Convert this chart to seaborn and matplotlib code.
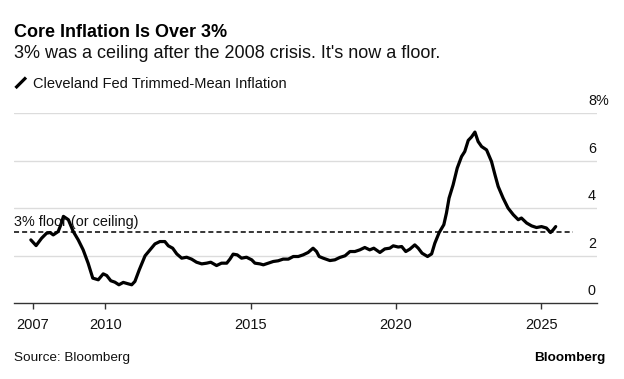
import matplotlib
matplotlib.use("Agg")
import pandas as pd
import matplotlib.pyplot as plt
import matplotlib.transforms as mtransforms
from matplotlib.lines import Line2D
import seaborn as sns

# Cleveland Fed trimmed-mean inflation (decimal year, %)
years = [2007.44, 2007.62, 2007.81, 2007.98, 2008.10, 2008.21, 2008.38, 2008.47,
         2008.56, 2008.73, 2008.90, 2009.07, 2009.24, 2009.41, 2009.57, 2009.76,
         2009.93, 2010.05, 2010.19, 2010.33, 2010.47, 2010.62, 2010.79, 2010.91,
         2011.02, 2011.17, 2011.37, 2011.54, 2011.71, 2011.88, 2012.05, 2012.17,
         2012.32, 2012.46, 2012.63, 2012.80, 2012.97, 2013.14, 2013.32, 2013.49,
         2013.63, 2013.83, 2014.00, 2014.18, 2014.29, 2014.40, 2014.54, 2014.69,
         2014.86, 2015.04, 2015.15, 2015.32, 2015.44, 2015.61, 2015.78, 2015.95,
         2016.12, 2016.30, 2016.47, 2016.64, 2016.81, 2016.98, 2017.15, 2017.27,
         2017.36, 2017.50, 2017.73, 2017.90, 2018.07, 2018.25, 2018.42, 2018.59,
         2018.76, 2018.93, 2019.10, 2019.24, 2019.45, 2019.62, 2019.79, 2019.91,
         2020.08, 2020.20, 2020.34, 2020.48, 2020.65, 2020.77, 2020.90, 2021.09,
         2021.23, 2021.34, 2021.49, 2021.65, 2021.74, 2021.83, 2021.97, 2022.11,
         2022.26, 2022.37, 2022.49, 2022.60, 2022.72, 2022.83, 2022.95, 2023.12,
         2023.29, 2023.41, 2023.52, 2023.69, 2023.86, 2024.04, 2024.21, 2024.32,
         2024.50, 2024.67, 2024.84, 2025.01, 2025.18, 2025.32, 2025.41, 2025.50]
trimmed_mean = [2.67, 2.43, 2.74, 2.95, 2.98, 2.88, 3.02, 3.30,
                3.66, 3.52, 3.02, 2.67, 2.25, 1.69, 1.06, 0.99,
                1.24, 1.17, 0.95, 0.89, 0.78, 0.88, 0.82, 0.78,
                0.92, 1.41, 2.00, 2.25, 2.50, 2.60, 2.60, 2.42,
                2.32, 2.08, 1.90, 1.94, 1.86, 1.73, 1.66, 1.69,
                1.73, 1.59, 1.69, 1.69, 1.86, 2.07, 2.04, 1.90,
                1.94, 1.83, 1.69, 1.66, 1.62, 1.69, 1.76, 1.79,
                1.86, 1.86, 1.97, 1.97, 2.04, 2.14, 2.32, 2.18,
                1.97, 1.90, 1.80, 1.83, 1.93, 2.00, 2.18, 2.18,
                2.25, 2.35, 2.25, 2.32, 2.14, 2.29, 2.32, 2.42,
                2.37, 2.39, 2.18, 2.28, 2.46, 2.32, 2.11, 1.97,
                2.08, 2.53, 2.98, 3.31, 3.80, 4.43, 4.99, 5.69,
                6.18, 6.39, 6.86, 7.00, 7.21, 6.81, 6.60, 6.46,
                5.97, 5.41, 4.92, 4.43, 4.01, 3.73, 3.52, 3.59,
                3.38, 3.26, 3.19, 3.23, 3.17, 2.98, 3.09, 3.23]
floor_level = 3.0
ytick_vals = [0, 2, 4, 6, 8]
ytick_text = ["0", "2", "4", "6", "8%"]
xtick_vals = [2007.5, 2010, 2015, 2020, 2025]
xtick_text = ["2007", "2010", "2015", "2020", "2025"]

sns.set_theme(style="white")
plt.rcParams["font.family"] = ["Liberation Sans", "DejaVu Sans"]

W, H = 624, 379
fig = plt.figure(figsize=(W / 100, H / 100), dpi=100)
fx = lambda px: px / W
fy = lambda py: 1 - py / H

ax = fig.add_axes([fx(14), fy(303.3), fx(596.7) - fx(14), fy(113.3) - fy(303.3)])
x0, x1 = 2006.86, 2026.91

# gridlines + 3% line
for v in ytick_vals[1:]:
    ax.axhline(v, color="#dcdcdc", lw=1, zorder=0)
ax.hlines(floor_level, x0, 2026.09, colors="black", lw=1.1,
          linestyles=(0, (3.3, 2.0)), zorder=1)

df = pd.DataFrame({"year": years, "value": trimmed_mean})
sns.lineplot(data=df, x="year", y="value", ax=ax, color="black", lw=2.3,
             solid_joinstyle="round", zorder=3)

ax.set_xlim(x0, x1)
ax.set_ylim(0, 8)
ax.set_xlabel(""); ax.set_ylabel("")
for s in ["top", "left", "right"]:
    ax.spines[s].set_visible(False)
ax.spines["bottom"].set_color("#333333")
ax.spines["bottom"].set_linewidth(1)

ax.set_xticks(xtick_vals, xtick_text)
ax.tick_params(axis="x", bottom=True, length=4.3, width=1, color="#333333",
               direction="out", pad=6, labelsize=10.5, labelcolor="#111111")

ax.yaxis.tick_right()
ax.set_yticks(ytick_vals, ytick_text)
ax.tick_params(axis="y", right=True, length=0, pad=-6.3, labelsize=10.4,
               labelcolor="#111111")
up = mtransforms.ScaledTranslation(0, 8 / 100, fig.dpi_scale_trans)
for lab in ax.get_yticklabels():
    lab.set_va("baseline")
    lab.set_ha("left")
    lab.set_transform(lab.get_transform() + up)

ax.text(x0, 3.25, "3% floor (or ceiling)", fontsize=10.4, va="baseline",
        color="#111111")

# header / footer
fig.text(fx(14), fy(37), "Core Inflation Is Over 3%", fontsize=13,
         fontweight="bold", va="baseline", color="black")
fig.text(fx(14), fy(57.5), "3% was a ceiling after the 2008 crisis. It's now a floor.",
         fontsize=13, va="baseline", color="#111111")
fig.add_artist(Line2D([fx(15.5), fx(26)], [fy(88), fy(77.5)], transform=fig.transFigure,
                      color="black", lw=2.3, solid_capstyle="butt"))
fig.text(fx(33), fy(88), "Cleveland Fed Trimmed-Mean Inflation", fontsize=10.5,
         va="baseline", color="#111111")
fig.text(fx(14), fy(361.5), "Source: Bloomberg", fontsize=9.7, va="baseline",
         color="#111111")
fig.text(fx(605), fy(361.5), "Bloomberg", fontsize=9.7, fontweight="bold",
         ha="right", va="baseline", color="black")

fig.savefig("out.png", dpi=100)
